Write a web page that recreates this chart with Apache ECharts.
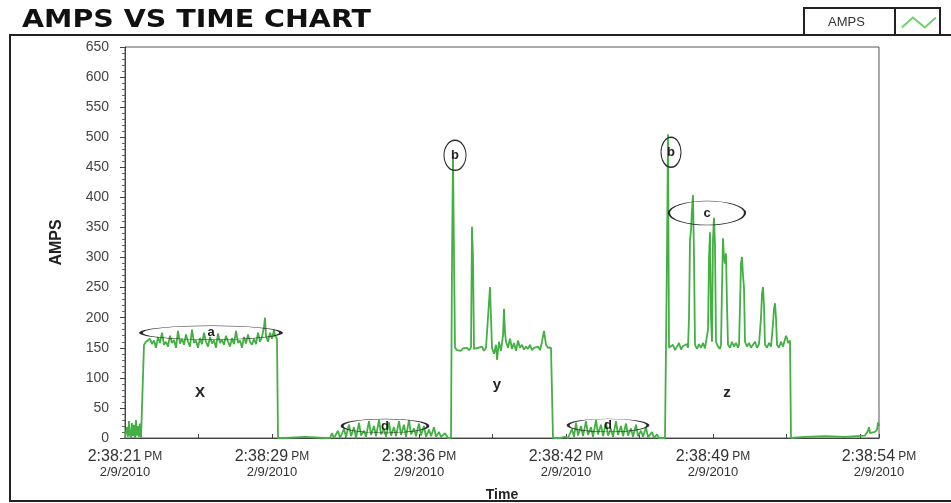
<!DOCTYPE html>
<html>
<head>
<meta charset="utf-8">
<title>AMPS VS TIME CHART</title>
<script src="https://cdn.jsdelivr.net/npm/echarts@6/dist/echarts.min.js"></script>
<style>
  html, body { margin: 0; padding: 0; background: #fff; }
  #chart { width: 951px; height: 503px; }
</style>
</head>
<body>
<div id="chart"></div>
<script>
// x = sample number, y = amps
const startNoise = [[0,0],[2,18],[3,2],[4,28],[5,5],[6,0],[7,25],[8,3],[9,22],[10,0],[11,30],[12,4],[13,20],[14,2],[15,24],[16,0],[17,0]];
const blockX = [[18,0],[19,155],[21,160],[23,158],[25,165],[27,156],[29,162],[31,150],[33,168],[35,158],[37,175],[39,155],[41,160],[43,152],[45,170],[47,158],[49,163],[51,150],[53,178],[55,157],[57,165],[59,155],[61,172],[63,160],[65,152],[67,180],[69,158],[71,162],[73,150],[75,166],[77,156],[79,175],[81,160],[83,152],[85,168],[87,157],[89,162],[91,150],[93,174],[95,158],[97,163],[99,155],[101,170],[103,160],[105,152],[107,166],[109,156],[111,178],[113,158],[115,162],[117,150],[119,168],[121,157],[123,172],[125,160],[127,155],[129,165],[131,156],[133,175],[135,160],[137,168],[139,185],[140,200],[141,170],[143,160],[145,175],[147,165],[149,180],[150,170],[152,165],[153,0]];
const idle1 = [[160,0],[180,2],[200,0]];
const noiseD1 = [[205,0],[207,8],[209,0],[213,12],[215,0],[219,15],[221,2],[224,22],[226,3],[229,18],[231,0],[234,25],[236,4],[239,12],[241,2],[244,28],[246,5],[249,20],[251,3],[254,30],[256,6],[259,15],[261,2],[264,26],[266,4],[269,18],[271,3],[274,28],[276,5],[279,22],[281,2],[284,30],[286,6],[289,16],[291,3],[294,24],[296,4],[299,20],[301,2],[304,14],[306,3],[309,18],[311,2],[314,10],[316,2],[320,8],[323,0],[326,0]];
const blockY = [[327,295],[328,470],[329,300],[330,150],[332,146],[334,148],[336,145],[338,149],[340,147],[342,150],[344,146],[346,150],[347,351],[348,300],[349,148],[351,146],[353,150],[355,147],[357,152],[359,145],[361,150],[363,148],[365,251],[366,200],[367,150],[369,140],[371,155],[372,130],[374,160],[376,145],[378,170],[379,215],[380,175],[381,160],[383,150],[385,165],[387,148],[389,158],[391,145],[393,162],[395,150],[397,155],[399,147],[401,152],[403,148],[405,155],[407,146],[409,150],[411,148],[413,152],[415,146],[417,160],[419,178],[421,155],[423,150],[425,148],[426,150],[427,75],[428,0]];
const idle2 = [[435,0],[440,2],[443,0]];
const noiseD2 = [[445,0],[447,15],[449,2],[451,25],[453,4],[456,20],[458,3],[461,28],[463,5],[466,18],[468,2],[471,30],[473,6],[476,22],[478,3],[481,26],[483,4],[486,15],[488,2],[491,28],[493,5],[496,20],[498,3],[501,24],[503,4],[506,16],[508,2],[511,22],[513,3],[516,12],[518,2],[521,18],[523,1],[527,10],[529,0],[532,6],[534,0],[540,0]];
const blockZ = [[541,0],[542,310],[543,505],[544,150],[546,148],[548,155],[550,146],[552,152],[554,158],[556,147],[558,153],[560,150],[562,156],[563,150],[564,200],[565,330],[566,345],[567,380],[568,404],[569,300],[570,155],[572,148],[574,156],[576,150],[578,158],[580,149],[582,150],[583,180],[584,300],[585,342],[586,200],[587,160],[588,330],[589,366],[590,320],[591,160],[593,152],[595,148],[596,155],[597,250],[598,332],[599,300],[600,290],[601,307],[602,220],[603,155],[605,150],[607,160],[609,152],[611,158],[613,150],[614,155],[615,220],[616,290],[617,301],[618,270],[619,250],[620,160],[622,152],[624,158],[626,150],[628,155],[630,160],[632,150],[634,156],[635,155],[636,200],[637,240],[638,251],[639,220],[640,155],[642,150],[644,158],[646,152],[647,155],[648,190],[649,215],[650,224],[651,200],[652,155],[654,150],[656,160],[658,152],[660,155],[661,170],[662,166],[663,158],[665,162],[666,0]];
const tail = [[680,2],[700,3],[720,2],[740,4],[743,12],[744,18],[745,8],[747,5],[750,10],[752,14],[753,26],[754,20]];

const timeLabels = ['2:38:21', '2:38:29', '2:38:36', '2:38:42', '2:38:49', '2:38:54'];
const dateLabel = '2/9/2010';
const lastSample = 754;
const tickStep = 73.5;

// annotation anchors: [sample, amps, text]
const ellipseNotes = [[86, 175, 'a'], [260, 20, 'd'], [483, 21, 'd'], [330, 470, 'b'], [546, 475, 'b'], [582, 374, 'c']];
const ellipseSizes = [[140, 14], [86, 14], [80, 13], [22, 30], [20, 30], [76, 24]];
const blockNotes = [[75, 75, 'X'], [372, 88, 'y'], [602, 75, 'z']];

const ampsData = [].concat(startNoise, blockX, idle1, noiseD1, blockY, idle2, noiseD2, blockZ, tail);

const ellipsePath = 'path://M0,50 C0,22.4 22.4,0 50,0 C77.6,0 100,22.4 100,50 C100,77.6 77.6,100 50,100 C22.4,100 0,77.6 0,50 Z';
const green = '#44b044';
const font = 'Liberation Sans, Arial, sans-serif';

let markData = ellipseNotes.map((n, i) => ({
  coord: [n[0], n[1]],
  symbol: ellipsePath,
  symbolSize: ellipseSizes[i],
  itemStyle: { color: 'rgba(0,0,0,0)', borderColor: '#2a2a2a', borderWidth: 1.2 },
  label: { show: true, position: 'inside', formatter: n[2], color: '#222', fontSize: 13, fontWeight: 'bold', fontFamily: font }
}));
blockNotes.forEach((n) => {
  markData.push({
    coord: [n[0], n[1]],
    symbol: 'circle',
    symbolSize: 1,
    itemStyle: { color: 'rgba(0,0,0,0)' },
    label: { show: true, position: 'inside', formatter: n[2], color: '#222', fontSize: 15, fontWeight: 'bold', fontFamily: font }
  });
});

let myChart = echarts.init(document.getElementById('chart'));
let option = {
  animation: false,
  backgroundColor: '#fff',
  legend: {
    left: 823,
    top: 11,
    align: 'right',
    itemWidth: 34,
    itemHeight: 12,
    itemGap: 10,
    formatter: '{n|{name}}',
    textStyle: {
      fontSize: 13, color: '#333', fontFamily: font,
      rich: { n: { padding: [0, 32, 0, 17], fontSize: 13, color: '#333', fontFamily: font } }
    },
    data: [{
      name: 'AMPS',
      icon: 'path://M0,12 L11,2 L23,12 L34,2',
      itemStyle: { color: 'rgba(0,0,0,0)', borderColor: '#6fd06f', borderWidth: 2 }
    }]
  },
  graphic: [
    {
      type: 'text', left: 22, top: 8, scaleX: 1.14, silent: true,
      style: { text: 'AMPS VS TIME CHART', fill: '#111', font: 'bold 25px "DejaVu Sans", sans-serif' }
    },
    { type: 'rect', shape: { x: 10, y: 35, width: 960, height: 466 }, style: { fill: 'none', stroke: '#222', lineWidth: 2 }, silent: true },
    { type: 'rect', shape: { x: 804, y: 8, width: 136, height: 27 }, style: { fill: 'none', stroke: '#222', lineWidth: 2 }, silent: true },
    { type: 'line', shape: { x1: 895, y1: 8, x2: 895, y2: 35 }, style: { stroke: '#222', lineWidth: 2 }, silent: true }
  ],
  grid: {
    left: 125,
    right: 72,
    top: 47,
    bottom: 65,
    outerBoundsMode: 'none',
    show: true,
    borderColor: '#555',
    borderWidth: 1
  },
  xAxis: {
    type: 'value',
    min: 0,
    max: lastSample,
    interval: tickStep,
    name: 'Time',
    nameLocation: 'middle',
    nameGap: 50,
    nameTextStyle: { fontSize: 14, fontWeight: 'bold', color: '#222', fontFamily: font },
    axisLine: { lineStyle: { color: '#444' } },
    axisTick: { inside: true, length: 4, lineStyle: { color: '#444' } },
    splitLine: { show: false },
    axisLabel: {
      interval: 0,
      hideOverlap: false,
      showMinLabel: true,
      showMaxLabel: true,
      margin: 10,
      formatter: function (v) {
        let idx;
        if (Math.abs(v - lastSample) < 1) {
          idx = timeLabels.length - 1;
        } else {
          let k = Math.round(v / tickStep);
          if (k % 2 !== 0 || k / 2 >= timeLabels.length - 1) return '';
          idx = k / 2;
        }
        return '{t|' + timeLabels[idx] + '} {p|PM}\n{d|' + dateLabel + '}';
      },
      rich: {
        t: { fontSize: 16, color: '#333', fontFamily: font, lineHeight: 17 },
        p: { fontSize: 12, color: '#333', fontFamily: font, lineHeight: 17 },
        d: { fontSize: 13, color: '#333', fontFamily: font, lineHeight: 15 }
      }
    }
  },
  yAxis: {
    type: 'value',
    min: 0,
    max: 650,
    interval: 50,
    name: 'AMPS',
    nameLocation: 'middle',
    nameGap: 60,
    nameTextStyle: { fontSize: 16, fontWeight: 'bold', color: '#222', fontFamily: font },
    axisLine: { show: true, lineStyle: { color: '#444' } },
    axisTick: { show: true, length: 5, lineStyle: { color: '#444' } },
    minorTick: { show: true, splitNumber: 5, length: 3, lineStyle: { color: '#666' } },
    splitLine: { show: false },
    axisLabel: { fontSize: 14, color: '#444', margin: 16, fontFamily: font }
  },
  series: [{
    name: 'AMPS',
    type: 'line',
    data: ampsData,
    showSymbol: false,
    lineStyle: { color: green, width: 1.8 },
    itemStyle: { color: green },
    markPoint: { silent: true, data: markData }
  }]
};
option && myChart.setOption(option);
</script>
</body>
</html>
